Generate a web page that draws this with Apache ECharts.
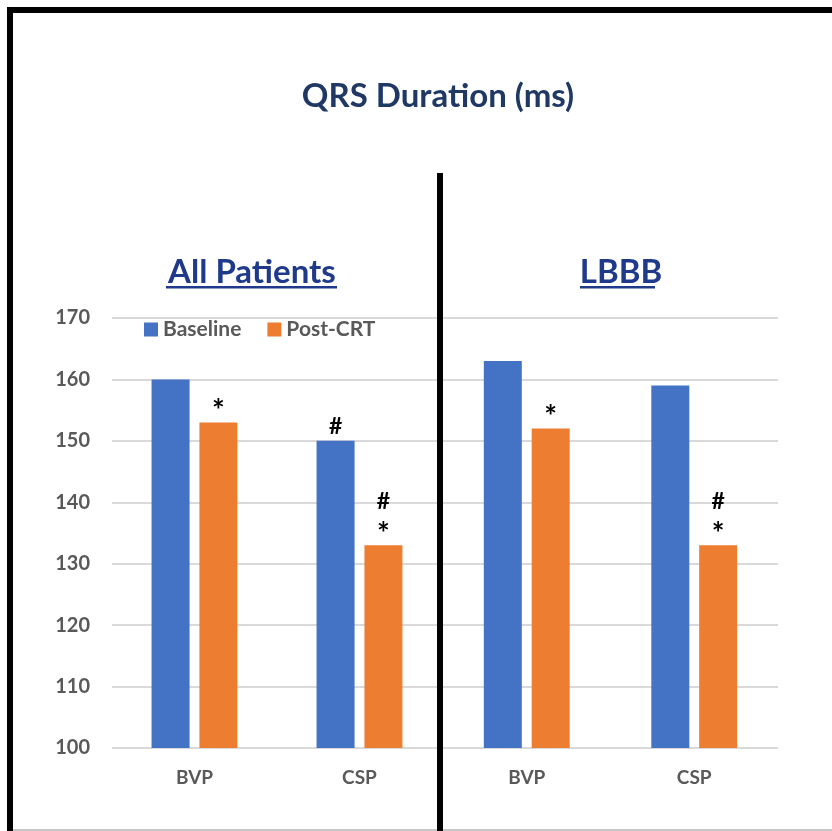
<!DOCTYPE html>
<html>
<head>
<meta charset="utf-8">
<script src="https://cdn.jsdelivr.net/npm/echarts@6/dist/echarts.min.js"></script>
<style>
  html, body { margin: 0; padding: 0; background: #ffffff; }
  #chart { width: 832px; height: 831px; }
</style>
</head>
<body>
<div id="chart"></div>
<script>
// ---- data ----
const categories = ['BVP', 'CSP'];
const seriesNames = ['Baseline', 'Post-CRT'];
const allBaseline = [160, 150];
const allPost = [153, 133];
const lbbbBaseline = [163, 159];
const lbbbPost = [152, 133];
const allBaselineMarks = ['', '#'];
const allPostMarks = ['*', '#\n*'];
const lbbbBaselineMarks = ['', ''];
const lbbbPostMarks = ['*', '#\n*'];
const yTicks = [100, 110, 120, 130, 140, 150, 160, 170];
const chartTitle = 'QRS Duration (ms)';
const panelTitles = ['All Patients', 'LBBB'];

// ---- styles ----
const BLUE = '#4472C4';
const ORANGE = '#ED7D31';
const GRAY = '#595959';
const FONT = 'Lato';
const PANEL_BLUE = '#1F3A8A';

const chart = echarts.init(document.getElementById('chart'));

function richMark(m) {
  return m.split('\n').map(c => c === '*' ? '{s|*}' : (c === '#' ? '{h|#}' : '')).join('\n');
}

function markLabel(marks) {
  return {
    show: true,
    position: 'top',
    distance: -4,
    color: '#000000',
    fontFamily: FONT,
    fontWeight: 'bold',
    formatter: p => richMark(marks[p.dataIndex]),
    rich: {
      s: { fontFamily: FONT, fontWeight: 'bold', fontSize: 30, lineHeight: 30, color: '#000' },
      h: { fontFamily: FONT, fontWeight: 'bold', fontSize: 23, lineHeight: 30, color: '#000', padding: [0, 0, 6, 0] }
    }
  };
}

function barSeries(name, data, marks, idx, color) {
  return {
    name: name,
    type: 'bar',
    xAxisIndex: idx,
    yAxisIndex: idx,
    data: data,
    barWidth: 38,
    barGap: '26%',
    itemStyle: { color: color },
    label: markLabel(marks),
    emphasis: { disabled: true }
  };
}

const yMin = yTicks[0], yMax = yTicks[yTicks.length - 1], yStep = yTicks[1] - yTicks[0];

function yAxis(idx, showLabels) {
  return {
    type: 'value',
    gridIndex: idx,
    min: yMin,
    max: yMax,
    interval: yStep,
    axisLine: { show: false },
    axisTick: { show: false },
    axisLabel: {
      show: showLabels,
      margin: 22,
      color: GRAY,
      fontFamily: FONT,
      fontWeight: 'bold',
      fontSize: 20
    },
    splitLine: { show: true, lineStyle: { color: '#D9D9D9', width: 2 } }
  };
}

function xAxis(idx) {
  return {
    type: 'category',
    gridIndex: idx,
    data: categories,
    axisLine: { show: false },
    axisTick: { show: false },
    axisLabel: {
      margin: 20,
      color: GRAY,
      fontFamily: FONT,
      fontWeight: 'bold',
      fontSize: 19
    }
  };
}

const option = {
  backgroundColor: '#ffffff',
  animation: false,
  title: [
    {
      text: chartTitle,
      left: 433, top: 75, textAlign: 'center',
      textStyle: { color: '#1F3864', fontFamily: FONT, fontWeight: 'bold', fontSize: 33 }
    },
    {
      text: panelTitles[0],
      left: 247, top: 251, textAlign: 'center',
      textStyle: { color: PANEL_BLUE, fontFamily: FONT, fontWeight: 'bold', fontSize: 33 }
    },
    {
      text: panelTitles[1],
      left: 616, top: 251, textAlign: 'center',
      textStyle: { color: PANEL_BLUE, fontFamily: FONT, fontWeight: 'bold', fontSize: 33 }
    }
  ],
  legend: {
    data: seriesNames,
    left: 144, top: 319,
    padding: 0,
    itemWidth: 14, itemHeight: 14, itemGap: 26,
    icon: 'rect',
    textStyle: { color: GRAY, fontFamily: FONT, fontWeight: 'bold', fontSize: 21 }
  },
  grid: [
    { left: 112, top: 318, width: 330, height: 430 },
    { left: 443, top: 318, width: 335, height: 430 }
  ],
  xAxis: [xAxis(0), xAxis(1)],
  yAxis: [yAxis(0, true), yAxis(1, false)],
  series: [
    barSeries(seriesNames[0], allBaseline, allBaselineMarks, 0, BLUE),
    barSeries(seriesNames[1], allPost, allPostMarks, 0, ORANGE),
    barSeries(seriesNames[0], lbbbBaseline, lbbbBaselineMarks, 1, BLUE),
    barSeries(seriesNames[1], lbbbPost, lbbbPostMarks, 1, ORANGE)
  ],
  graphic: [
    // frame
    { type: 'rect', shape: { x: 7, y: 7, width: 832, height: 6 }, style: { fill: '#000' }, silent: true },
    { type: 'rect', shape: { x: 7, y: 7, width: 6, height: 831 }, style: { fill: '#000' }, silent: true },
    { type: 'rect', shape: { x: 13, y: 829, width: 832, height: 2 }, style: { fill: '#C8C8C8' }, silent: true },
    // divider
    { type: 'rect', shape: { x: 437, y: 173, width: 6, height: 660 }, style: { fill: '#000' }, silent: true, z: 10 },
    // underlines
    { type: 'rect', shape: { x: 166, y: 286, width: 171, height: 2.5 }, style: { fill: PANEL_BLUE }, silent: true },
    { type: 'rect', shape: { x: 580, y: 286, width: 75, height: 2.5 }, style: { fill: PANEL_BLUE }, silent: true }
  ]
};

chart.setOption(option);
</script>
</body>
</html>
